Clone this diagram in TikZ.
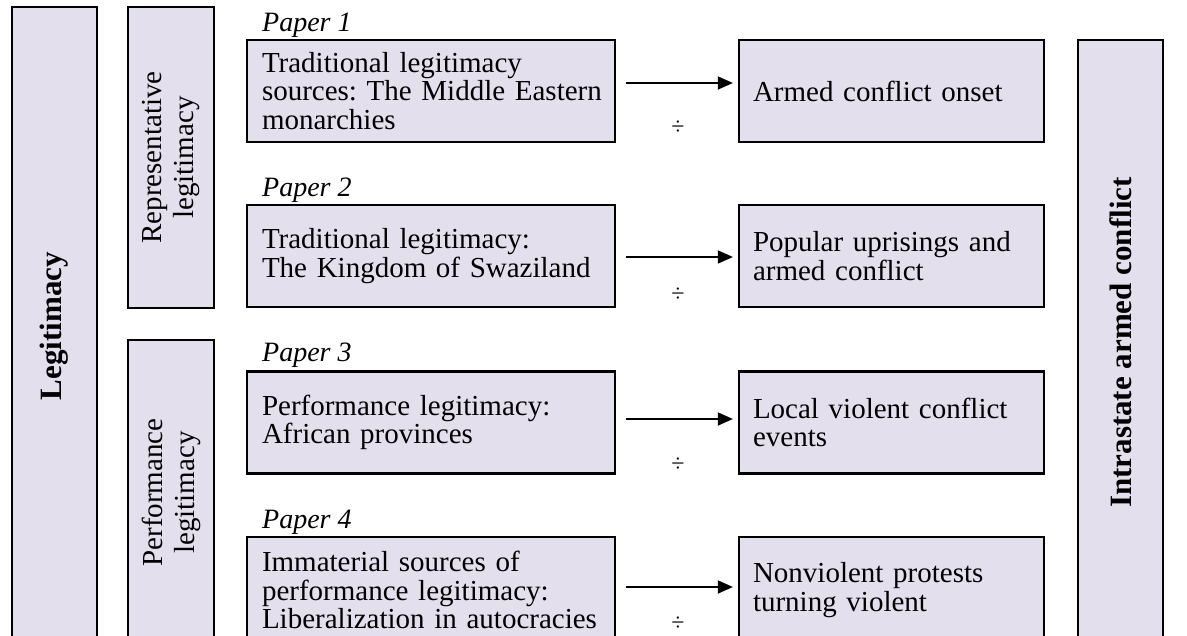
\documentclass[tikz,border=0pt]{standalone}
\usepackage{fontspec}
\setmainfont{Liberation Serif}
\usetikzlibrary{arrows.meta}
\definecolor{boxfill}{HTML}{E4DFEC}
\frenchspacing
\hyphenpenalty=10000
\exhyphenpenalty=10000
\newcommand\mainfs{\fontsize{29}{28.5}\selectfont}
\newcommand\vertfs{\fontsize{29}{32}\selectfont}
\newcommand\labfs{\fontsize{28}{28}\selectfont\itshape}
\newcommand\boldfs{\fontsize{31}{31}\selectfont\bfseries}
\begin{document}
\begin{tikzpicture}[x=1pt,y=-1pt,
  box/.style={draw=black, line width=2.2pt, fill=boxfill},
  leftbox/.style={box, inner xsep=15pt, inner ysep=0pt, text width=338pt,
    minimum height=102pt, align=left, font=\mainfs},
  rightbox/.style={box, inner xsep=14pt, inner ysep=0pt, text width=277pt,
    minimum height=102pt, align=left, font=\mainfs},
  vbox/.style={box, rotate=90, inner sep=0pt, align=center},
  paperlab/.style={anchor=base west, inner sep=0pt, font=\labfs},
  divsign/.style={inner sep=0pt, font=\fontsize{24}{24}\selectfont},
  arr/.style={line width=1.4pt, -{Triangle[length=15pt,width=13pt]}}]
\useasboundingbox (0,0) rectangle (1187,636);
% column boxes
\node[vbox, minimum width=638pt, minimum height=85pt, font=\boldfs] (legit) at (54.5,326) {Legitimacy};
\node[vbox, minimum width=301pt, minimum height=86pt, font=\vertfs] (repr) at (171,157.5) {Representative\\legitimacy};
\node[vbox, minimum width=305pt, minimum height=86pt, font=\vertfs] (perf) at (171,492.5) {Performance\\legitimacy};
\node[vbox, minimum width=605pt, minimum height=85pt, font=\boldfs] (intra) at (1120.5,342.5) {Intrastate armed conflict};
% paper labels
\node[paperlab] (l1) at (262,32) {Paper 1};
\node[paperlab] (l2) at (262,197) {Paper 2};
\node[paperlab] (l3) at (262,362) {Paper 3};
\node[paperlab] (l4) at (262,528) {Paper 4};
% left boxes
\node[leftbox] (p1) at (431,91) {Traditional legitimacy\\\mbox{sources: The Middle Eastern}\\monarchies};
\node[leftbox] (p2) at (431,256) {Traditional legitimacy:\\The Kingdom of Swaziland};
\node[leftbox] (p3) at (431,422.5) {Performance legitimacy:\\African provinces};
\node[leftbox, minimum height=106pt] (p4) at (431,590) {Immaterial sources of\\performance legitimacy:\\\mbox{Liberalization in autocracies}};
% right boxes
\node[rightbox] (r1) at (891.5,91) {Armed conflict onset};
\node[rightbox] (r2) at (891.5,256) {Popular uprisings and\\armed conflict};
\node[rightbox] (r3) at (891.5,422.5) {Local violent conflict\\events};
\node[rightbox, minimum height=106pt] (r4) at (891.5,590) {Nonviolent protests\\turning violent};
% arrows
\draw[arr] ([shift={(10,-8)}]p1.east) -- ([shift={(-5,-8)}]r1.west);
\draw[arr] ([shift={(10,1)}]p2.east) -- ([shift={(-5,1)}]r2.west);
\draw[arr] ([shift={(10,-3.5)}]p3.east) -- ([shift={(-5,-3.5)}]r3.west);
\draw[arr] ([shift={(10,-3)}]p4.east) -- ([shift={(-5,-3)}]r4.west);
% division signs
\node[divsign] (d1) at (678,128) {÷};
\node[divsign] (d2) at (678,295) {÷};
\node[divsign] (d3) at (678,465) {÷};
\node[divsign] (d4) at (678,624) {÷};
\end{tikzpicture}
\end{document}
